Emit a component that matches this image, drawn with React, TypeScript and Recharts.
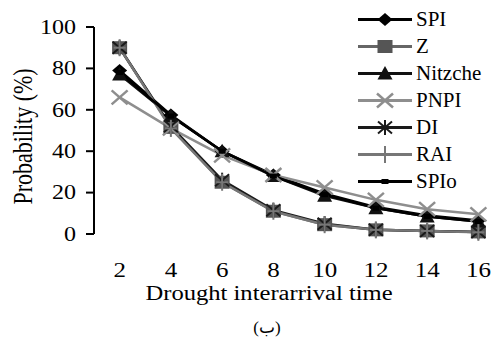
import React from 'react';
import { LineChart, Line, XAxis, YAxis, Legend, Label } from 'recharts';

const times = [2, 4, 6, 8, 10, 12, 14, 16];
const spi = [79, 57.5, 40, 28.5, 19.5, 13, 9, 6.5];
const zIdx = [90, 51.5, 25, 11, 4.5, 2, 1.5, 1];
const nitzche = [77, 57, 40, 28, 18.5, 12.5, 8.5, 6];
const pnpi = [66, 51, 38, 28.5, 22.5, 16.5, 12, 9.5];
const di = [90, 52, 26, 11.5, 5, 2, 1.5, 1];
const rai = [90, 51, 25, 11, 4.5, 2, 1.5, 0.8];
const spio = [78, 57, 40, 28, 19, 12.5, 8.5, 6];

const yTicks = [0, 20, 40, 60, 80, 100];
const xLabelTicks = [2, 4, 6, 8, 10, 12, 14, 16];
const xBoundaryTicks = [1, 3, 5, 7, 9, 11, 13, 15, 17];

const data = times.map((t, i) => ({
  x: t,
  SPI: spi[i],
  Z: zIdx[i],
  Nitzche: nitzche[i],
  PNPI: pnpi[i],
  DI: di[i],
  RAI: rai[i],
  SPIo: spio[i],
}));

type Kind = 'diamond' | 'square' | 'triangle' | 'x' | 'asterisk' | 'plus' | 'dash';

const series: { key: string; stroke: string; mark: string; kind: Kind }[] = [
  { key: 'SPI', stroke: '#000000', mark: '#000000', kind: 'diamond' },
  { key: 'Z', stroke: '#666666', mark: '#555555', kind: 'square' },
  { key: 'Nitzche', stroke: '#111111', mark: '#111111', kind: 'triangle' },
  { key: 'PNPI', stroke: '#8e8e8e', mark: '#8e8e8e', kind: 'x' },
  { key: 'DI', stroke: '#1a1a1a', mark: '#1a1a1a', kind: 'asterisk' },
  { key: 'RAI', stroke: '#777777', mark: '#777777', kind: 'plus' },
  { key: 'SPIo', stroke: '#000000', mark: '#000000', kind: 'dash' },
];

const FONT = 'Liberation Serif, Times New Roman, Times, serif';
const PLOT_BOTTOM = 234;

function Marker({ kind, cx, cy, color }: { kind: Kind; cx: number; cy: number; color: string }) {
  if (cx == null || cy == null) return <g />;
  switch (kind) {
    case 'diamond':
      return (
        <polygon
          points={`${cx - 7.5},${cy} ${cx},${cy - 6.5} ${cx + 7.5},${cy} ${cx},${cy + 6.5}`}
          fill={color}
        />
      );
    case 'square':
      return <rect x={cx - 7.5} y={cy - 6.5} width={15} height={13} fill={color} />;
    case 'triangle':
      return (
        <polygon
          points={`${cx},${cy - 7.5} ${cx + 7.5},${cy + 6} ${cx - 7.5},${cy + 6}`}
          fill={color}
        />
      );
    case 'x':
      return (
        <g stroke={color} strokeWidth={2.5}>
          <line x1={cx - 8} y1={cy - 7} x2={cx + 8} y2={cy + 7} />
          <line x1={cx - 8} y1={cy + 7} x2={cx + 8} y2={cy - 7} />
        </g>
      );
    case 'asterisk':
      return (
        <g stroke={color} strokeWidth={2}>
          <line x1={cx - 7} y1={cy - 6} x2={cx + 7} y2={cy + 6} />
          <line x1={cx - 7} y1={cy + 6} x2={cx + 7} y2={cy - 6} />
          <line x1={cx} y1={cy - 7.5} x2={cx} y2={cy + 7.5} />
        </g>
      );
    case 'plus':
      return (
        <g stroke={color} strokeWidth={2}>
          <line x1={cx - 6} y1={cy} x2={cx + 6} y2={cy} />
          <line x1={cx} y1={cy - 8.5} x2={cx} y2={cy + 8.5} />
        </g>
      );
    case 'dash':
      return <rect x={cx - 3.5} y={cy - 2.5} width={7} height={5} fill={color} />;
  }
  return <g />;
}

const YTick = (props: any) => {
  const { x, y, payload } = props;
  return (
    <text
      transform={`translate(${x},${y + 6.7}) scale(1.2,1)`}
      textAnchor="end"
      style={{ fontFamily: FONT, fontSize: 20 }}
      fill="#000"
    >
      {payload.value}
    </text>
  );
};

const XTick = (props: any) => {
  const { x, payload } = props;
  return (
    <text
      transform={`translate(${x},${PLOT_BOTTOM + 43}) scale(1.25,1)`}
      textAnchor="middle"
      style={{ fontFamily: FONT, fontSize: 20 }}
      fill="#000"
    >
      {payload.value}
    </text>
  );
};

const EmptyTick = () => <g />;

const renderLegend = () => (
  <div>
    {series.map((s) => (
      <div key={s.key} style={{ height: 27, display: 'flex', alignItems: 'center' }}>
        <svg width={58} height={27} style={{ display: 'block' }}>
          <line x1={0} y1={13.5} x2={54} y2={13.5} stroke={s.stroke} strokeWidth={3} />
          <Marker kind={s.kind} cx={27} cy={13.5} color={s.mark} />
        </svg>
        <span style={{ fontFamily: FONT, fontSize: 21, lineHeight: '27px', color: '#000', fontWeight: 400 }}>
          {s.key}
        </span>
      </div>
    ))}
  </div>
);

export default function App() {
  return (
    <div
      style={{
        position: 'absolute',
        left: 0,
        top: 0,
        width: 504,
        height: 337,
        background: '#fff',
        fontFamily: FONT,
      }}
    >
      <LineChart width={504} height={337} data={data} margin={{ top: 27, right: 0, left: 0, bottom: 0 }}>
        <XAxis
          xAxisId="b"
          dataKey="x"
          type="number"
          domain={[1, 17]}
          ticks={xBoundaryTicks}
          allowDataOverflow
          interval={0}
          height={0}
          tick={EmptyTick}
          tickSize={8}
          axisLine={{ stroke: '#000', strokeWidth: 2 }}
          tickLine={{ stroke: '#000', strokeWidth: 2 }}
        />
        <XAxis
          xAxisId="l"
          dataKey="x"
          type="number"
          domain={[1, 17]}
          ticks={xLabelTicks}
          interval={0}
          height={103}
          axisLine={false}
          tickLine={false}
          tickSize={0}
          tickMargin={0}
          tick={XTick}
        >
          <Label
            content={() => (
              <g>
                <text
                  transform={`translate(269,${PLOT_BOTTOM + 66}) scale(1.23,1)`}
                  textAnchor="middle"
                  style={{ fontFamily: FONT, fontSize: 20 }}
                  fill="#000"
                >
                  Drought interarrival time
                </text>
                <text
                  x={267}
                  y={PLOT_BOTTOM + 99}
                  textAnchor="middle"
                  style={{ fontFamily: 'Liberation Serif, DejaVu Sans, serif', fontSize: 17 }}
                  fill="#000"
                >
                  (ب)
                </text>
              </g>
            )}
          />
        </XAxis>
        <YAxis
          width={94}
          domain={[0, 100]}
          ticks={yTicks}
          interval={0}
          tickSize={8}
          tickMargin={10}
          tick={YTick}
          axisLine={{ stroke: '#000', strokeWidth: 2 }}
          tickLine={{ stroke: '#000', strokeWidth: 2 }}
        >
          <Label
            content={() => (
              <text
                transform={`translate(31.5,136.5) scale(1.2,1) rotate(-90)`}
                textAnchor="middle"
                style={{ fontFamily: FONT, fontSize: 22 }}
                fill="#000"
              >
                Probability (%)
              </text>
            )}
          />
        </YAxis>
        <Legend
          layout="vertical"
          align="center"
          verticalAlign="middle"
          content={renderLegend}
          wrapperStyle={{ top: 5.5, left: 358, width: 146, height: 189 }}
        />
        {series.map((s) => (
          <Line
            key={s.key}
            xAxisId="l"
            dataKey={s.key}
            stroke={s.stroke}
            strokeWidth={2.5}
            isAnimationActive={false}
            activeDot={false}
            dot={(p: any) => (
              <Marker key={`${s.key}-${p.index}`} kind={s.kind} cx={p.cx} cy={p.cy} color={s.mark} />
            )}
          />
        ))}
      </LineChart>
    </div>
  );
}
